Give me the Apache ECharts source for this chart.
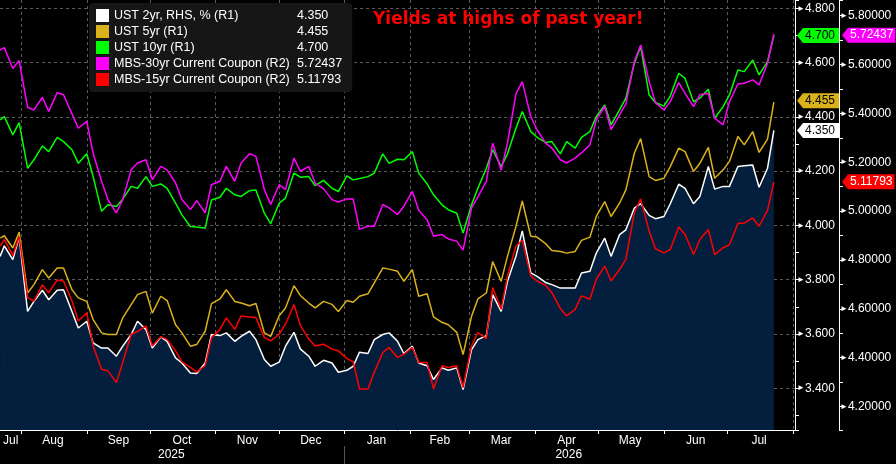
<!DOCTYPE html>
<html>
<head>
<meta charset="utf-8">
<title>UST vs MBS yields</title>
<script src="https://cdn.jsdelivr.net/npm/echarts@6.0.0/dist/echarts.min.js"></script>
<style>
  html, body { margin: 0; padding: 0; background: #000; }
  #box { width: 896px; height: 464px; }
</style>
</head>
<body>
<div id="box"></div>
<script>
// sample dates (Mon / Thu), Jul 2025 - Jul 2026
var dates = [
  '2025-07-22','2025-07-24','2025-07-28','2025-07-31','2025-08-04','2025-08-07','2025-08-11','2025-08-14','2025-08-18','2025-08-21','2025-08-25','2025-08-28','2025-09-01','2025-09-04','2025-09-08','2025-09-11','2025-09-15','2025-09-18','2025-09-22','2025-09-25','2025-09-29','2025-10-02',
  '2025-10-06','2025-10-09','2025-10-13','2025-10-16','2025-10-20','2025-10-23','2025-10-27','2025-10-30','2025-11-03','2025-11-06','2025-11-10','2025-11-13','2025-11-17','2025-11-20','2025-11-24','2025-11-27','2025-12-01','2025-12-04','2025-12-08','2025-12-11','2025-12-15',
  '2025-12-18','2025-12-22','2025-12-26','2025-12-29','2026-01-02','2026-01-05','2026-01-08','2026-01-12','2026-01-15','2026-01-19','2026-01-22','2026-01-26','2026-01-29','2026-02-02','2026-02-05','2026-02-09','2026-02-12','2026-02-16','2026-02-19','2026-02-23','2026-02-26',
  '2026-03-02','2026-03-05','2026-03-09','2026-03-12','2026-03-16','2026-03-19','2026-03-23','2026-03-26','2026-03-30','2026-04-02','2026-04-06','2026-04-09','2026-04-13','2026-04-16','2026-04-20','2026-04-23','2026-04-27','2026-04-30','2026-05-04','2026-05-07','2026-05-11','2026-05-14',
  '2026-05-18','2026-05-21','2026-05-25','2026-05-28','2026-06-01','2026-06-04','2026-06-08','2026-06-11','2026-06-15','2026-06-18','2026-06-22','2026-06-25','2026-06-29','2026-07-02','2026-07-06','2026-07-09','2026-07-13','2026-07-16','2026-07-20','2026-07-23'
];

var ust2y = [
  3.886,3.925,3.874,3.957,3.683,3.720,3.761,3.726,3.761,3.763,3.683,3.622,3.647,3.567,3.548,3.548,3.518,3.555,3.598,3.647,3.616,3.548,
  3.589,3.573,3.512,3.493,3.456,3.454,3.493,3.598,3.594,3.604,3.573,3.591,3.610,3.579,3.506,3.481,3.496,3.555,3.606,3.545,3.518,
  3.481,3.503,3.493,3.459,3.466,3.481,3.533,3.528,3.579,3.598,3.604,3.573,3.528,3.555,3.493,3.483,3.432,3.475,3.466,3.475,3.395,
  3.542,3.579,3.594,3.745,3.683,3.794,3.886,3.980,3.825,3.812,3.790,3.782,3.769,3.769,3.769,3.825,3.831,3.898,3.953,3.886,3.966,3.984,
  4.064,4.080,4.037,4.025,4.033,4.080,4.152,4.137,4.080,4.107,4.217,4.134,4.144,4.144,4.217,4.220,4.223,4.141,4.211,4.350
];
var ust5y = [
  3.953,3.962,3.917,3.975,3.751,3.782,3.837,3.806,3.843,3.843,3.763,3.733,3.720,3.653,3.604,3.598,3.598,3.659,3.708,3.745,3.757,3.677,
  3.739,3.723,3.634,3.604,3.555,3.561,3.610,3.712,3.729,3.763,3.720,3.714,3.704,3.712,3.604,3.591,3.667,3.696,3.778,3.742,3.714,
  3.696,3.720,3.709,3.683,3.723,3.717,3.739,3.748,3.788,3.843,3.839,3.831,3.794,3.837,3.739,3.748,3.663,3.643,3.634,3.606,3.524,
  3.665,3.729,3.751,3.867,3.794,3.886,3.996,4.090,3.960,3.957,3.933,3.908,3.904,3.898,3.904,3.945,3.957,4.033,4.088,4.033,4.082,4.131,
  4.266,4.320,4.180,4.166,4.174,4.217,4.285,4.272,4.199,4.229,4.288,4.174,4.205,4.236,4.328,4.297,4.346,4.269,4.318,4.455
];
var ust10y = [
  4.389,4.401,4.334,4.379,4.211,4.242,4.293,4.272,4.325,4.309,4.279,4.229,4.264,4.180,4.052,4.076,4.070,4.097,4.144,4.137,4.180,4.144,
  4.153,4.137,4.082,4.039,3.996,3.994,3.990,4.094,4.104,4.137,4.113,4.107,4.128,4.131,4.045,4.006,4.082,4.101,4.193,4.178,4.180,
  4.147,4.166,4.137,4.125,4.183,4.168,4.173,4.180,4.193,4.264,4.229,4.244,4.242,4.272,4.193,4.153,4.113,4.076,4.058,4.045,3.972,
  4.076,4.137,4.211,4.279,4.217,4.264,4.358,4.420,4.346,4.325,4.306,4.309,4.264,4.309,4.285,4.325,4.346,4.401,4.444,4.371,4.426,4.469,
  4.598,4.660,4.481,4.453,4.440,4.477,4.561,4.542,4.456,4.469,4.502,4.395,4.438,4.481,4.573,4.567,4.610,4.555,4.604,4.700
];
var mbs30 = [
  5.659,5.669,5.584,5.616,5.425,5.414,5.466,5.408,5.485,5.476,5.398,5.339,5.367,5.237,5.122,5.047,4.993,5.047,5.169,5.197,5.210,5.129,
  5.183,5.169,5.115,5.047,5.006,5.043,4.993,5.108,5.122,5.183,5.122,5.197,5.235,5.224,5.088,5.027,5.108,5.088,5.217,5.163,5.183,
  5.115,5.091,5.047,5.037,5.050,5.050,4.925,4.938,4.938,5.027,5.013,4.986,5.020,5.081,5.003,4.965,4.897,4.904,4.886,4.877,4.840,
  5.013,5.058,5.122,5.278,5.167,5.278,5.480,5.530,5.387,5.333,5.278,5.258,5.210,5.197,5.217,5.238,5.271,5.373,5.428,5.333,5.394,5.439,
  5.612,5.680,5.530,5.444,5.414,5.448,5.526,5.482,5.428,5.476,5.482,5.380,5.353,5.448,5.520,5.523,5.537,5.516,5.605,5.72437
];
var mbs15 = [
  4.856,4.884,4.818,4.895,4.646,4.632,4.698,4.666,4.718,4.714,4.632,4.550,4.584,4.448,4.353,4.346,4.298,4.380,4.496,4.507,4.530,4.448,
  4.486,4.475,4.428,4.383,4.360,4.342,4.367,4.482,4.516,4.563,4.516,4.571,4.567,4.564,4.482,4.469,4.496,4.537,4.618,4.533,4.476,
  4.448,4.455,4.435,4.428,4.397,4.383,4.272,4.272,4.340,4.421,4.442,4.401,4.414,4.442,4.380,4.380,4.272,4.367,4.360,4.367,4.278,
  4.448,4.503,4.478,4.687,4.598,4.734,4.857,4.880,4.734,4.714,4.696,4.666,4.601,4.571,4.598,4.653,4.639,4.721,4.775,4.714,4.761,4.802,
  4.993,5.050,4.918,4.846,4.829,4.843,4.935,4.904,4.822,4.884,4.925,4.822,4.850,4.863,4.949,4.951,4.972,4.938,5.003,5.11793
];

var names = ['UST 2yr, RHS, % (R1)', 'UST 5yr (R1)', 'UST 10yr (R1)', 'MBS-30yr Current Coupon (R2)', 'MBS-15yr Current Coupon (R2)'];
var colors = ['#ffffff', '#d9b21c', '#00ff00', '#ff00ff', '#ff0000'];
var tagText = ['#000000', '#000000', '#000000', '#ffffff', '#ffffff'];
var axisOf = [0, 0, 0, 1, 1];
var decimals = [3, 3, 3, 5, 5];
var allData = [ust2y, ust5y, ust10y, mbs30, mbs15];
var monthNames = ['Jan','Feb','Mar','Apr','May','Jun','Jul','Aug','Sep','Oct','Nov','Dec'];

var FONT = 'Liberation Sans, Arial, sans-serif';

// every calendar day on the x axis
var days = [];
var dd = new Date(Date.UTC(2025, 6, 22));
var lastDay = Date.UTC(2026, 7, 2);
while (dd.getTime() <= lastDay) {
  days.push(dd.toISOString().slice(0, 10));
  dd.setUTCDate(dd.getUTCDate() + 1);
}

// month label in the middle of each month
var bounds = [0];
days.forEach(function (s, i) { if (i > 0 && s.slice(8) === '01') bounds.push(i); });
bounds.push(days.length - 1);
var monthLabelAt = {};
for (var k = 0; k < bounds.length - 1; k++) {
  if (bounds[k + 1] - bounds[k] > 5) monthLabelAt[Math.floor((bounds[k] + bounds[k + 1]) / 2)] = true;
}
var janIdx = days.indexOf('2026-01-01');
var yearLabelAt = {};
yearLabelAt[Math.floor(janIdx / 2)] = true;
yearLabelAt[Math.floor((janIdx + days.length - 1) / 2)] = true;

function tickFmt(dec) {
  return function (v) {
    var t = Math.round(v * 10);
    if (Math.abs(v * 10 - t) > 1e-6 || t % 2 !== 0) return '';
    return '{a|\u25BA}' + v.toFixed(dec);
  };
}

function arrowImg(color) {
  var c = document.createElement('canvas');
  c.width = 6; c.height = 15;
  var ctx = c.getContext('2d');
  ctx.fillStyle = color;
  ctx.beginPath();
  ctx.moveTo(6, 0); ctx.lineTo(0, 7.5); ctx.lineTo(6, 15); ctx.closePath();
  ctx.fill();
  return c;
}

var legendVals = {};
var series = allData.map(function (vals, i) {
  var last = vals[vals.length - 1];
  legendVals[names[i]] = last.toFixed(decimals[i]);
  var s = {
    name: names[i],
    type: 'line',
    yAxisIndex: axisOf[i],
    data: dates.map(function (d, j) { return [d, vals[j]]; }),
    symbol: 'none',
    clip: false,
    z: 2 + i,
    lineStyle: { color: colors[i], width: 1.5 },
    itemStyle: { color: colors[i] },
    markLine: {
      silent: true,
      symbol: 'none',
      animation: false,
      lineStyle: { color: 'rgba(0,0,0,0)', width: 0 },
      label: {
        position: 'end',
        distance: axisOf[i] ? 47 : 2,
        formatter: '{p| }{b|' + last.toFixed(decimals[i]) + '}',
        rich: {
          p: { width: 6, height: 15, backgroundColor: { image: arrowImg(colors[i]) } },
          b: {
            backgroundColor: colors[i], color: tagText[i], fontFamily: FONT, fontSize: 12,
            height: 15, lineHeight: 15, padding: axisOf[i] ? [0, 2, 0, 2] : [0, 4, 0, 2]
          }
        }
      },
      data: [{ yAxis: last }]
    }
  };
  if (i === 0) s.areaStyle = { color: '#041f3d', opacity: 1, origin: 'start' };
  return s;
});

var myChart = echarts.init(document.getElementById('box'));
var option = {
  backgroundColor: '#000000',
  animation: false,
  title: {
    text: 'Yields at highs of past year!',
    left: 373, top: 11, padding: 0,
    textStyle: { color: '#ff0000', fontFamily: 'DejaVu Sans', fontWeight: 'bold', fontSize: 17 }
  },
  legend: {
    orient: 'vertical',
    left: 89, top: 3,
    padding: [6, 10, 6, 7],
    itemGap: 3,
    itemWidth: 13, itemHeight: 13,
    icon: 'rect',
    selectedMode: false,
    backgroundColor: '#161616',
    borderRadius: 4,
    data: names,
    formatter: function (name) { return '{n|' + name + '}{v|' + legendVals[name] + '}'; },
    textStyle: {
      color: '#ffffff', fontFamily: FONT, fontSize: 12.5,
      rich: {
        n: { width: 183, color: '#ffffff', fontFamily: FONT, fontSize: 12.5 },
        v: { color: '#ffffff', fontFamily: FONT, fontSize: 12.5 }
      }
    }
  },
  grid: { left: 0, right: 101, top: 0, bottom: 34 },
  xAxis: [{
    type: 'category',
    data: days,
    boundaryGap: false,
    axisLine: { lineStyle: { color: '#ffffff', width: 1 } },
    axisTick: {
      interval: function (i, v) { return v.slice(8) === '01'; },
      length: 4, lineStyle: { color: '#ffffff' }
    },
    splitLine: {
      show: true,
      interval: function (i, v) { return v.slice(8) === '01'; },
      lineStyle: { color: '#5c5c5c', type: [3, 3] }
    },
    axisLabel: {
      interval: function (i) { return !!monthLabelAt[i]; },
      formatter: function (v) { return monthNames[+v.slice(5, 7) - 1]; },
      color: '#ffffff', fontFamily: FONT, fontSize: 12, margin: 5
    }
  }, {
    type: 'category',
    data: days,
    boundaryGap: false,
    position: 'bottom',
    offset: 16,
    axisLine: { show: false },
    axisTick: {
      interval: function (i) { return i === janIdx; },
      length: 18, lineStyle: { color: '#555555' }
    },
    axisLabel: {
      interval: function (i) { return !!yearLabelAt[i]; },
      formatter: function (v) { return v.slice(0, 4); },
      color: '#ffffff', fontFamily: FONT, fontSize: 12, margin: 3
    }
  }],
  yAxis: [{
    type: 'value',
    position: 'right',
    min: 3.246, max: 4.831,
    splitNumber: 16,
    axisLine: { show: true, lineStyle: { color: '#ffffff' } },
    axisTick: { show: true, length: 4, lineStyle: { color: '#ffffff' } },
    splitLine: {
      show: true, showMinLine: false, showMaxLine: false,
      lineStyle: { color: ['rgba(0,0,0,0)', '#5c5c5c'], type: [3, 3] }
    },
    axisLabel: {
      formatter: tickFmt(3), margin: 2,
      color: '#ffffff', fontFamily: FONT, fontSize: 12,
      rich: { a: { fontSize: 8, color: '#ffffff', fontFamily: FONT } }
    }
  }, {
    type: 'value',
    position: 'right',
    offset: 44,
    min: 4.104, max: 5.864,
    splitNumber: 16,
    axisLine: { show: true, lineStyle: { color: '#ffffff' } },
    axisTick: { show: true, length: 4, lineStyle: { color: '#ffffff' } },
    splitLine: { show: false },
    axisLabel: {
      formatter: tickFmt(5), margin: 1,
      color: '#ffffff', fontFamily: FONT, fontSize: 12,
      rich: { a: { fontSize: 8, color: '#ffffff', fontFamily: FONT } }
    }
  }],
  series: series
};
myChart.setOption(option);
</script>
</body>
</html>
